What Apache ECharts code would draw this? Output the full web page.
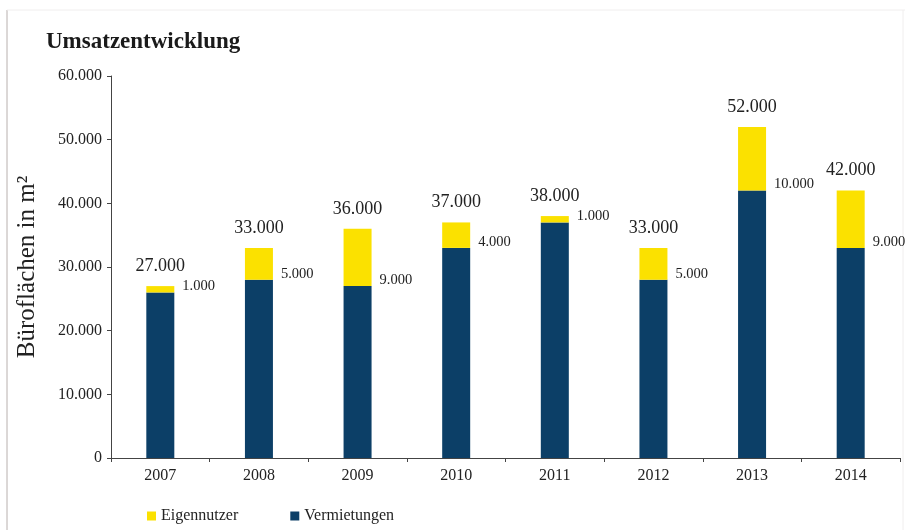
<!DOCTYPE html>
<html><head><meta charset="utf-8">
<script src="https://cdn.jsdelivr.net/npm/echarts@6/dist/echarts.min.js"></script>
<style>html,body{margin:0;padding:0;background:#fff}#c{width:913px;height:530px}</style>
</head><body><div id="c"></div>
<script>
const years = ['2007','2008','2009','2010','2011','2012','2013','2014'];
const vermietungen = [26000, 28000, 27000, 33000, 37000, 28000, 42000, 33000];
const eigennutzer = [1000, 5000, 9000, 4000, 1000, 5000, 10000, 9000];
const totals = [27000, 33000, 36000, 37000, 38000, 33000, 52000, 42000];
const yTicks = [0, 10000, 20000, 30000, 40000, 50000, 60000];

const serif = '"Liberation Serif", "DejaVu Serif", serif';
const fmt = v => v === 0 ? '0' : (v/1000).toFixed(0) + '.000';
const NAVY = '#0c3f67', YELLOW = '#fbe100';

const chart = echarts.init(document.getElementById('c'));
chart.setOption({
  animation: false,
  backgroundColor: '#fff',
  textStyle: { fontFamily: serif },
  graphic: [
    { type: 'line', shape: { x1: 7, y1: 10, x2: 7, y2: 530 }, style: { stroke: '#b8b0ae', lineWidth: 1 } },
    { type: 'line', shape: { x1: 7, y1: 10, x2: 905, y2: 10 }, style: { stroke: '#f0eeee', lineWidth: 1 } },
    { type: 'line', shape: { x1: 903, y1: 10, x2: 903, y2: 530 }, style: { stroke: '#f0eeee', lineWidth: 1 } }
  ],
  title: {
    text: 'Umsatzentwicklung', left: 41, top: 26,
    textStyle: { fontFamily: serif, fontSize: 23, fontWeight: 'bold', color: '#1a1a1a' }
  },
  legend: {
    data: ['Eigennutzer', 'Vermietungen'], left: 142, bottom: 1, itemGap: 52,
    itemWidth: 9, itemHeight: 9, icon: 'rect',
    textStyle: { fontFamily: serif, fontSize: 16, color: '#222' }
  },
  grid: { left: 111, right: 13, top: 76, bottom: 72 },
  xAxis: {
    type: 'category', data: years,
    axisLine: { lineStyle: { color: '#444' } },
    axisTick: { show: true, length: 4, lineStyle: { color: '#444' } },
    axisLabel: { fontFamily: serif, fontSize: 16, color: '#222', margin: 10 }
  },
  yAxis: {
    type: 'value', min: 0, max: 60000, interval: 10000,
    name: 'Büroflächen in m²', nameLocation: 'middle', nameGap: 71, nameRotate: 90,
    nameTextStyle: { fontFamily: serif, fontSize: 25, color: '#222' },
    axisLine: { show: true, lineStyle: { color: '#444' } },
    axisTick: { show: true, length: 4, lineStyle: { color: '#444' } },
    splitLine: { show: false },
    axisLabel: { fontFamily: serif, fontSize: 16, color: '#222', margin: 9,
      formatter: v => yTicks.includes(v) ? fmt(v) : '' }
  },
  series: [
    { name: 'Vermietungen', type: 'bar', stack: 's', data: vermietungen, barWidth: 28,
      itemStyle: { color: NAVY } },
    { name: 'Eigennutzer', type: 'bar', stack: 's', data: eigennutzer, barWidth: 28,
      itemStyle: { color: YELLOW },
      label: { show: true, position: ['100%', '100%'], offset: [8, -6], align: 'left', verticalAlign: 'middle',
        fontFamily: serif, fontSize: 14.5, color: '#222', formatter: p => fmt(p.value) } },
    { name: 'Gesamt', type: 'bar', stack: 's', data: totals.map(() => 0), barWidth: 28,
      itemStyle: { color: 'transparent' },
      label: { show: true, position: 'top', distance: 11, fontFamily: serif, fontSize: 18, color: '#222',
        formatter: p => fmt(totals[p.dataIndex]) } }
  ]
});
</script></body></html>
